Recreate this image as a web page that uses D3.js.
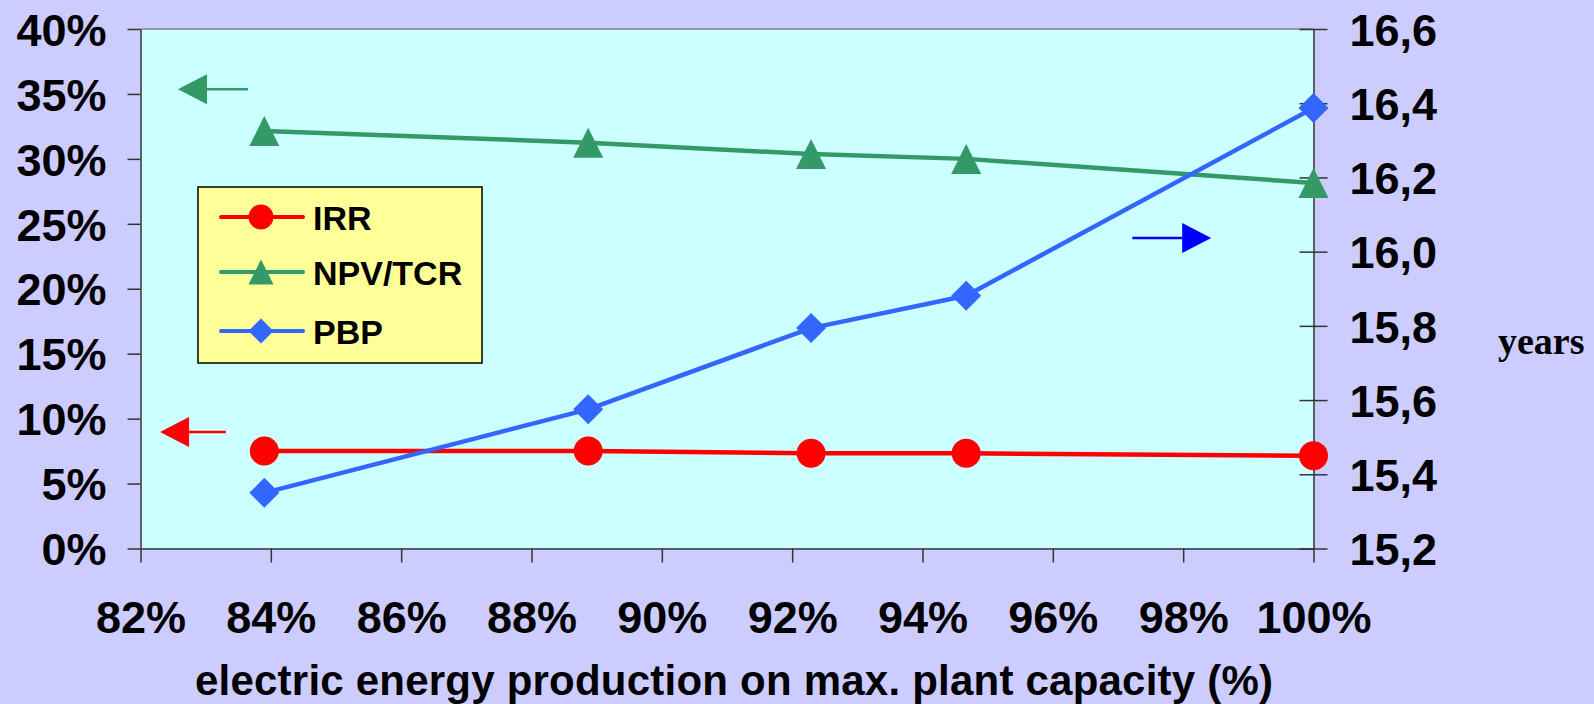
<!DOCTYPE html>
<html>
<head>
<meta charset="utf-8">
<script src="https://cdn.jsdelivr.net/npm/d3@7/dist/d3.min.js"></script>
<style>
  html, body { margin: 0; padding: 0; background: #CCCCFF; }
  svg { display: block; }
  text { font-family: "Liberation Sans", Arial, sans-serif; font-weight: bold; fill: #000; }
</style>
</head>
<body>
<svg id="chart" width="1594" height="704"></svg>
<script>
// Capacity utilisation (% of max. plant capacity)
const capacity = [83.9, 88.87, 92.29, 94.67, 100];
// Internal rate of return (%), left axis
const irr = [7.51, 7.50, 7.33, 7.33, 7.14];
// NPV / total capital requirement (%), left axis
const npvTcr = [32.14, 31.25, 30.37, 30.0, 28.15];
// Pay-back period (years), right axis
const pbp = [15.35, 15.575, 15.794, 15.881, 16.387];

const xTicks = [82, 84, 86, 88, 90, 92, 94, 96, 98, 100];
const leftTicks = [0, 5, 10, 15, 20, 25, 30, 35, 40];
const rightTicks = [15.2, 15.4, 15.6, 15.8, 16.0, 16.2, 16.4, 16.6];

const seriesNames = ["IRR", "NPV/TCR", "PBP"];
const seriesColors = ["#FF0000", "#339966", "#3366FF"];
const seriesShapes = ["circle", "triangle", "diamond"];

// Direction arrows pointing at the axis each series is read against
const arrowAxis = ["left", "left", "right"];
const arrowFrom = [83.31, 83.65, 97.22];
const arrowTo = [82.30, 82.575, 98.43];
const arrowLevel = [8.97, 35.37, 16.037];
const arrowColors = ["#FF0000", "#339966", "#0000FF"];

const svg = d3.select("#chart");
const W = 1594, H = 704;
const plot = { left: 140.5, right: 1313.5, top: 29, bottom: 548.5 };

svg.append("rect").attr("width", W).attr("height", H).attr("fill", "#CCCCFF");

const x = d3.scaleLinear().domain([82, 100]).range([plot.left, plot.right]);
const yL = d3.scaleLinear().domain([0, 40]).range([plot.bottom, plot.top]);
const yR = d3.scaleLinear().domain([15.2, 16.6]).range([plot.bottom, plot.top]);

// plot area
svg.append("rect")
  .attr("x", plot.left).attr("y", plot.top)
  .attr("width", plot.right - plot.left).attr("height", plot.bottom - plot.top)
  .attr("fill", "#CCFFFF");
svg.append("line")
  .attr("x1", plot.left).attr("x2", plot.right)
  .attr("y1", plot.top).attr("y2", plot.top)
  .attr("stroke", "#808080").attr("stroke-width", 1.5);

const axisColor = "#333";
function styleAxis(g) {
  g.selectAll(".domain").attr("stroke", axisColor).attr("stroke-width", 1.5);
  g.selectAll(".tick line").attr("stroke", axisColor).attr("stroke-width", 1.5);
  g.selectAll(".tick text").attr("fill", "#000")
    .style("font-family", '"Liberation Sans", Arial, sans-serif')
    .style("font-weight", "bold").style("font-size", "45px");
}

// left axis (%)
const gL = svg.append("g").attr("transform", `translate(${plot.left},0)`)
  .call(d3.axisLeft(yL).tickValues(leftTicks).tickFormat(d => d + "%")
    .tickSizeInner(13).tickSizeOuter(0).tickPadding(21));
styleAxis(gL);
gL.selectAll(".tick text").attr("dy", "0.36em");

// right axis (years)
const gR = svg.append("g").attr("transform", `translate(${plot.right},0)`)
  .call(d3.axisRight(yR).tickValues(rightTicks)
    .tickFormat(d => d3.format(".1f")(d).replace(".", ","))
    .tickSizeInner(14).tickSizeOuter(0).tickPadding(22));
styleAxis(gR);
gR.selectAll(".tick line").attr("x1", -14).attr("x2", 14);
gR.selectAll(".tick text").attr("dy", "0.36em");

// bottom axis
const gB = svg.append("g").attr("transform", `translate(0,${plot.bottom})`)
  .call(d3.axisBottom(x).tickValues(xTicks).tickFormat(d => d + "%")
    .tickSizeInner(14).tickSizeOuter(0).tickPadding(0));
styleAxis(gB);
gB.selectAll(".tick text").attr("dy", null).attr("y", 84.5);

// axis titles
svg.append("text")
  .attr("x", 195).attr("y", 695)
  .attr("textLength", 1078).attr("lengthAdjust", "spacing")
  .style("font-size", "42px")
  .text("electric energy production on max. plant capacity (%)");
svg.append("text")
  .attr("x", 1498).attr("y", 354)
  .style("font-family", '"Liberation Serif", "Times New Roman", serif')
  .style("font-size", "38px")
  .text("years");

// direction arrows
arrowAxis.forEach((axis, i) => {
  const yy = axis === "left" ? yL(arrowLevel[i]) : yR(arrowLevel[i]);
  const x0 = x(arrowFrom[i]), x1 = x(arrowTo[i]);
  const dir = Math.sign(x1 - x0);
  const headLen = 29, headHalf = 15;
  const g = svg.append("g");
  g.append("line")
    .attr("x1", x0).attr("x2", x1 - dir * headLen)
    .attr("y1", yy).attr("y2", yy)
    .attr("stroke", arrowColors[i]).attr("stroke-width", 2.5);
  g.append("path")
    .attr("d", `M${x1},${yy}L${x1 - dir * headLen},${yy - headHalf}L${x1 - dir * headLen},${yy + headHalf}Z`)
    .attr("fill", arrowColors[i]);
});

// marker path generator
function markerPath(shape, r) {
  if (shape === "circle") {
    return `M${-r},0A${r},${r} 0 1,0 ${r},0A${r},${r} 0 1,0 ${-r},0Z`;
  }
  if (shape === "triangle") {
    return `M0,${-r}L${r},${r}L${-r},${r}Z`;
  }
  return `M0,${-r}L${r},0L0,${r}L${-r},0Z`;
}

const seriesData = [
  { values: irr, scale: yL },
  { values: npvTcr, scale: yL },
  { values: pbp, scale: yR }
];

seriesData.forEach((s, i) => {
  const pts = capacity.map((c, j) => [x(c), s.scale(s.values[j])]);
  svg.append("path")
    .attr("d", d3.line()(pts))
    .attr("fill", "none")
    .attr("stroke", seriesColors[i])
    .attr("stroke-width", 4.5)
    .attr("stroke-linejoin", "round");
  svg.append("g").selectAll("path")
    .data(pts).join("path")
    .attr("transform", d => `translate(${d[0]},${d[1]})`)
    .attr("d", markerPath(seriesShapes[i], seriesShapes[i] === "circle" ? 14.5 : 15))
    .attr("fill", seriesColors[i]);
});

// legend
const lg = svg.append("g");
lg.append("rect")
  .attr("x", 198).attr("y", 187).attr("width", 284).attr("height", 176)
  .attr("fill", "#FFFF99").attr("stroke", "#000").attr("stroke-width", 1.5);
const legendRows = [217, 272, 331];
seriesNames.forEach((name, i) => {
  const yy = legendRows[i];
  lg.append("line")
    .attr("x1", 221).attr("x2", 303).attr("y1", yy).attr("y2", yy)
    .attr("stroke", seriesColors[i]).attr("stroke-width", 4).attr("stroke-linecap", "round");
  lg.append("path")
    .attr("transform", `translate(261,${yy})`)
    .attr("d", markerPath(seriesShapes[i], 12.5))
    .attr("fill", seriesColors[i]);
  lg.append("text")
    .attr("x", 313).attr("y", yy + 12.5)
    .style("font-size", "34px")
    .text(name);
});
</script>
</body>
</html>
